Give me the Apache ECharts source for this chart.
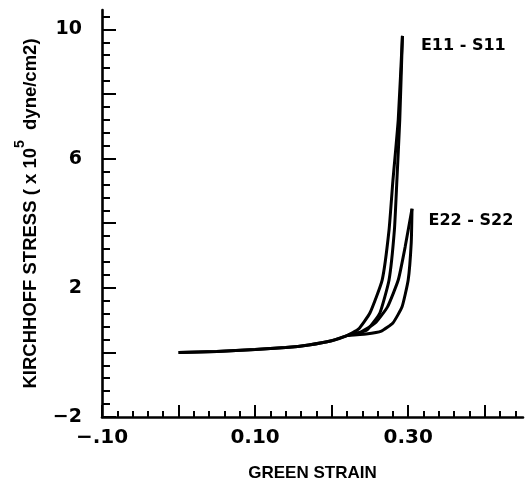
<!DOCTYPE html>
<html>
<head>
<meta charset="utf-8">
<script src="https://cdn.jsdelivr.net/npm/echarts@6/dist/echarts.min.js"></script>
<style>
  html, body { margin: 0; padding: 0; background: #fff; }
  #main { width: 529px; height: 492px; }
</style>
</head>
<body>
<div id="main"></div>
<script>
// tick labels
const xLabelValues = [-0.1, 0.1, 0.3];
const xLabelTexts = ['\u2212.10', '0.10', '0.30'];
const yLabelValues = [-2, 2, 6, 10];
const yLabelTexts = ['\u22122', '2', '6', '10'];

// shared low-strain part (green strain, stress x1e5 dyne/cm2)
const baseStrain = [0.0, 0.05, 0.10, 0.14, 0.17, 0.20, 0.22];
const baseStress = [0.0, 0.03, 0.09, 0.15, 0.23, 0.36, 0.52];

// E11-S11 loop
const e11UpStrain = [0.235, 0.250, 0.266, 0.275, 0.280, 0.287, 0.2925];
const e11UpStress = [0.72, 1.22, 2.24, 3.79, 5.30, 7.20, 9.80];
const e11DownStrain = [0.2925, 0.289, 0.285, 0.282, 0.275, 0.263, 0.246, 0.225];
const e11DownStress = [9.80, 7.20, 5.20, 3.79, 2.24, 1.22, 0.69, 0.55];

// E22-S22 loop
const e22UpStrain = [0.237, 0.257, 0.273, 0.287, 0.296, 0.305];
const e22UpStress = [0.62, 0.91, 1.41, 2.24, 3.26, 4.45];
const e22DownStrain = [0.305, 0.304, 0.300, 0.292, 0.280, 0.265, 0.245, 0.22];
const e22DownStress = [4.45, 3.40, 2.24, 1.41, 0.91, 0.66, 0.57, 0.52];

function pairs(xs, ys) {
  return xs.map(function (x, i) { return [x, ys[i]]; });
}
function steps(a, b, s) {
  const out = [];
  const n = Math.round((b - a) / s);
  for (let i = 0; i <= n; i++) out.push(Math.round((a + i * s) * 1000) / 1000);
  return out;
}
function pick(values, texts) {
  return function (v) {
    for (let i = 0; i < values.length; i++) {
      if (Math.abs(values[i] - v) < 1e-6) return texts[i];
    }
    return '';
  };
}

const numFont = 'DejaVu Sans';
const lineStyle = { color: '#000', width: 3 };

function curve(name, xs, ys, labelOffset) {
  const s = {
    name: name,
    type: 'line',
    xAxisIndex: 0,
    yAxisIndex: 0,
    data: pairs(xs, ys),
    showSymbol: false,
    smooth: 0.15,
    lineStyle: lineStyle,
    animation: false
  };
  if (labelOffset) {
    const last = s.data[s.data.length - 1];
    s.markPoint = {
      symbol: 'circle',
      symbolSize: 1,
      itemStyle: { color: 'rgba(0,0,0,0)' },
      animation: false,
      data: [{ coord: last }],
      label: {
        show: true,
        position: 'right',
        offset: labelOffset,
        formatter: name,
        color: '#000',
        fontFamily: numFont,
        fontWeight: 'bold',
        fontSize: 16
      }
    };
  }
  return s;
}

const xMin = -0.1, xMax = 0.45, yMin = -2, yMax = 10.6;

const myChart = echarts.init(document.getElementById('main'));
const option = {
  backgroundColor: '#fff',
  animation: false,
  grid: { left: 102, right: 6, top: 10, bottom: 75, containLabel: false },
  xAxis: [
    {
      type: 'value',
      position: 'bottom',
      min: xMin,
      max: xMax,
      name: 'GREEN STRAIN',
      nameLocation: 'middle',
      nameGap: 48,
      nameTextStyle: { color: '#000', fontFamily: 'Liberation Sans', fontWeight: 'bold', fontSize: 17 },
      splitLine: { show: false },
      axisLine: { show: true, onZero: false, lineStyle: { color: '#000', width: 2.6 } },
      axisTick: { show: true, inside: true, length: 12, lineStyle: { color: '#000', width: 2 },
        customValues: steps(-0.1, 0.4, 0.1) },
      axisLabel: {
        show: true, margin: 11, color: '#000', fontFamily: numFont, fontWeight: 'bold', fontSize: 20,
        customValues: xLabelValues,
        formatter: pick(xLabelValues, xLabelTexts)
      }
    },
    {
      type: 'value',
      position: 'bottom',
      min: xMin,
      max: xMax,
      splitLine: { show: false },
      axisLine: { show: false, onZero: false },
      axisTick: { show: true, inside: true, length: 6, lineStyle: { color: '#000', width: 2 },
        customValues: steps(-0.08, 0.44, 0.02) },
      axisLabel: { show: false }
    }
  ],
  yAxis: [
    {
      type: 'value',
      position: 'left',
      min: yMin,
      max: yMax,
      name: '{t|KIRCHHOFF STRESS ( x 10}{s|5}{t|  dyne/cm2)}',
      nameLocation: 'middle',
      nameGap: 62,
      nameTextStyle: {
        rich: {
          t: { color: '#000', fontFamily: 'Liberation Sans', fontWeight: 'bold', fontSize: 18.5, lineHeight: 27, verticalAlign: 'bottom' },
          s: { color: '#000', fontFamily: 'Liberation Sans', fontWeight: 'bold', fontSize: 14, lineHeight: 14, verticalAlign: 'top' }
        }
      },
      splitLine: { show: false },
      axisLine: { show: true, onZero: false, lineStyle: { color: '#000', width: 2.6 } },
      axisTick: { show: true, inside: true, length: 14, lineStyle: { color: '#000', width: 2 },
        customValues: steps(-2, 10, 2) },
      axisLabel: {
        show: true, margin: 20, color: '#000', fontFamily: numFont, fontWeight: 'bold', fontSize: 19,
        customValues: yLabelValues,
        formatter: pick(yLabelValues, yLabelTexts)
      }
    },
    {
      type: 'value',
      position: 'left',
      min: yMin,
      max: yMax,
      splitLine: { show: false },
      axisLine: { show: false, onZero: false },
      axisTick: { show: true, inside: true, length: 8, lineStyle: { color: '#000', width: 2 },
        customValues: steps(-1.6, 10.4, 0.4) },
      axisLabel: { show: false }
    }
  ],
  series: [
    curve('E11 - S11', baseStrain.concat(e11UpStrain), baseStress.concat(e11UpStress), [13, 10]),
    curve('E11 unloading', e11DownStrain, e11DownStress),
    curve('E22 - S22', baseStrain.concat(e22UpStrain), baseStress.concat(e22UpStress), [11, 12]),
    curve('E22 unloading', e22DownStrain, e22DownStress)
  ]
};
myChart.setOption(option);
</script>
</body>
</html>
